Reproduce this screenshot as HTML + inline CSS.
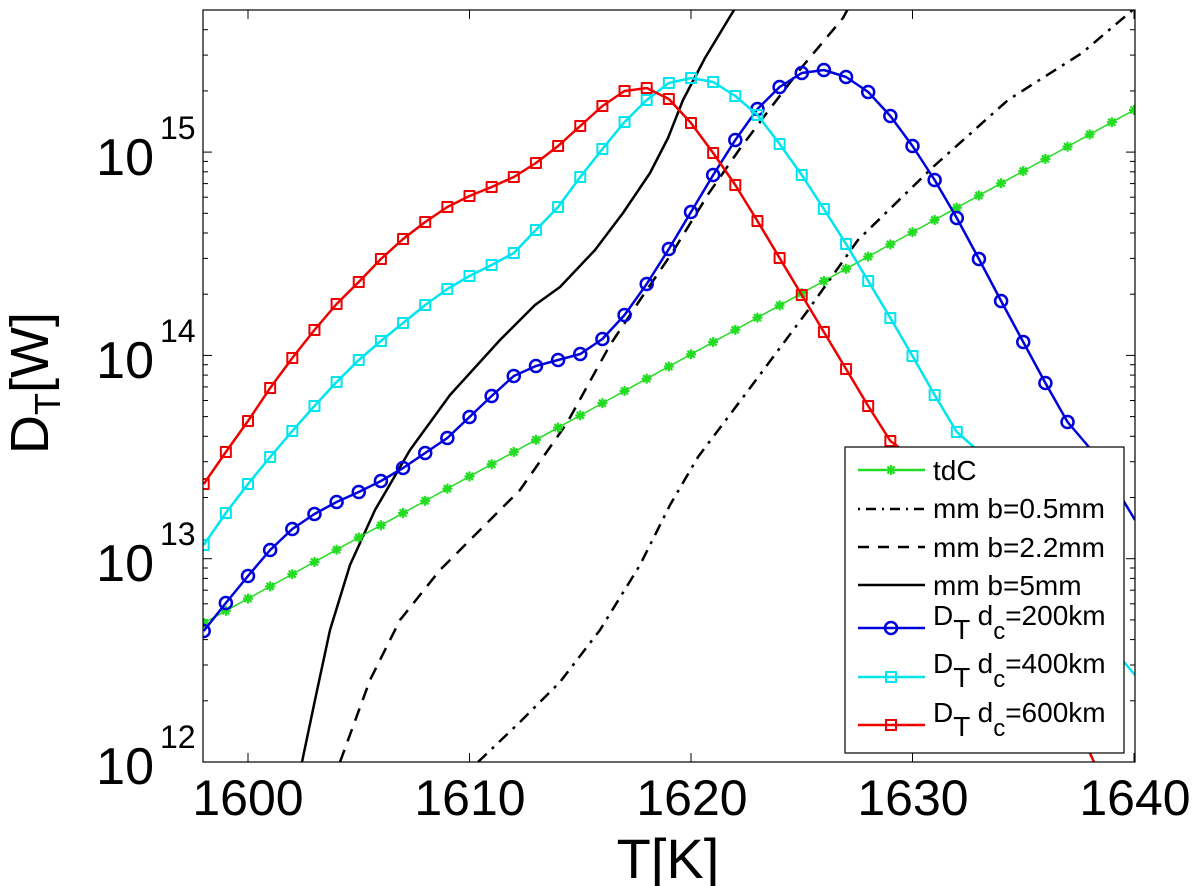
<!DOCTYPE html>
<html><head><meta charset="utf-8"><style>
html,body{margin:0;padding:0;background:#fff;}
svg{display:block;font-family:"Liberation Sans",Arial,sans-serif;}
</style></head><body>
<svg id="s" width="1200" height="886" viewBox="0 0 1200 886" xmlns="http://www.w3.org/2000/svg">
<rect width="1200" height="886" fill="#fff"/>
<defs><clipPath id="c"><rect x="203" y="10" width="932" height="752"/></clipPath></defs>
<g id="ticks" stroke="#000" stroke-width="1"></g>
<g clip-path="url(#c)" fill="none" stroke-width="2.5" stroke-linejoin="round">
<polyline stroke="#000" stroke-dasharray="12,7,3,7" points="478,762 520,722 560,682 600,630 640,565 670,505 698,457 750,388 806,313 858,240 933,167 1008,100 1082,53 1135,8"/>
<polyline stroke="#000" stroke-dasharray="13,9" points="340,762 370,680 400,620 440,570 480,530 520,490 567,423 610,345 640,300 672,253 709,193 739,150 769,110 802,67 843,18 850,5"/>
<polyline stroke="#000" points="302,762 315,700 330,630 350,565 375,510 410,450 450,395 500,340 535,305 560,287 595,250 623,213 650,173 668,138 683,100 705,58 737,5"/>
<g id="series"></g>
</g>
<rect x="203" y="10" width="932" height="752" fill="none" stroke="#000" stroke-width="1.2"/>
<g font-size="50" text-anchor="middle" fill="#000">
<text x="248" y="815">1600</text><text x="470" y="815">1610</text><text x="692" y="815">1620</text><text x="913" y="815">1630</text><text x="1135" y="815">1640</text>
</g>
<g font-size="52" fill="#000" text-anchor="end">
<text x="154" y="175">10</text><text x="154" y="378">10</text><text x="154" y="581">10</text><text x="154" y="784">10</text>
</g>
<g font-size="32" fill="#000">
<text x="160" y="139">15</text><text x="160" y="342">14</text><text x="160" y="545">13</text><text x="160" y="748">12</text>
</g>
<text x="668" y="878" font-size="56" text-anchor="middle">T[K]</text>
<text transform="translate(48,383) rotate(-90)" font-size="54" text-anchor="middle">D<tspan font-size="36" dy="12">T</tspan><tspan dy="-12">[W]</tspan></text>
<g>
<rect x="845" y="447" width="279" height="306" fill="#fff" stroke="#000" stroke-width="1.2"/>
<g font-size="28" fill="#000">
<text x="933" y="480">tdC</text>
<text x="933" y="518">mm b=0.5mm</text>
<text x="933" y="557">mm b=2.2mm</text>
<text x="933" y="595">mm b=5mm</text>
<text x="933" y="625">D<tspan dy="14">T</tspan><tspan dy="-14"> d</tspan><tspan dy="14" font-size="24">c</tspan><tspan dy="-14">=200km</tspan></text>
<text x="933" y="673">D<tspan dy="14">T</tspan><tspan dy="-14"> d</tspan><tspan dy="14" font-size="24">c</tspan><tspan dy="-14">=400km</tspan></text>
<text x="933" y="722">D<tspan dy="14">T</tspan><tspan dy="-14"> d</tspan><tspan dy="14" font-size="24">c</tspan><tspan dy="-14">=600km</tspan></text>
</g>
<g stroke-width="2.5">
<line x1="858" y1="509" x2="925" y2="509" stroke="#000" stroke-dasharray="2,6,10,6"/>
<line x1="858" y1="547" x2="925" y2="547" stroke="#000" stroke-dasharray="11,9"/>
<line x1="858" y1="585" x2="925" y2="585" stroke="#000"/>
</g>
<g id="legm"></g>
</g>
</svg>
<script>
var NS="http://www.w3.org/2000/svg";
function el(p,t,a){var e=document.createElementNS(NS,t);for(var k in a)e.setAttribute(k,a[k]);p.appendChild(e);return e;}
function X(T){return 203.7+(T-1598)*22.15;}
var tk=document.getElementById('ticks');
[1600,1610,1620,1630,1640].forEach(function(T){var x=X(T);el(tk,'line',{x1:x,y1:762,x2:x,y2:753});el(tk,'line',{x1:x,y1:10,x2:x,y2:19});});
for(var d=12;d<=15;d++){for(var m=1;m<10;m++){var y=762-(d-12+Math.log10(m))*203.3;if(y<10)break;var L=m==1?9:5;
el(tk,'line',{x1:203,y1:y,x2:203+L,y2:y});el(tk,'line',{x1:1135,y1:y,x2:1135-L,y2:y});}}
var S=document.getElementById('series');
function marker(g,type,x,y,c){
 if(type=='o')el(g,'circle',{cx:x,cy:y,r:6,fill:'none',stroke:c,'stroke-width':2.5});
 else if(type=='s')el(g,'rect',{x:x-5,y:y-5,width:10,height:10,fill:'none',stroke:c,'stroke-width':2});
 else {for(var a=0;a<4;a++){var an=a*Math.PI/4;el(g,'line',{x1:x-5*Math.cos(an),y1:y-5*Math.sin(an),x2:x+5*Math.cos(an),y2:y+5*Math.sin(an),stroke:c,'stroke-width':2.2});}}
}
function series(ys,type,c,tail,w){
 var pts=ys.map(function(y,i){return [X(1598+i),y];});
 var all=pts.concat(tail||[]);
 el(S,'polyline',{points:all.map(function(p){return p.join(',')}).join(' '),stroke:c,'stroke-width':w||2.5,fill:'none'});
 pts.forEach(function(p){marker(S,type,p[0],p[1],c);});
}
var g=[];for(var i=0;i<=42;i++)g.push(623-(623-110)*i/42);
series(g,'*','#22dd22',null,1.5);
series([631,603,576,550,529,514,502,492,481,468,453,438,417,396,376,366,360,354,339,315,284,249,212,175,140,109,87,73,70,77,92,116,146,180,218,259,301,342,383,422],'o','#0000dd',[[1100,460],[1120,495],[1135,520]]);
series([545,513,484,457,431,406,382,360,341,323,305,289,276,265,253,230,207,177,149,122,100,83,78,82,96,115,144,175,209,244,281,318,356,395,432],'s','#00e5ee',[[1000,470],[1040,540],[1080,610],[1135,675]]);
series([484,452,421,388,358,330,304,282,259,239,222,207,196,187,177,163,146,126,106,91,88,99,123,153,185,221,258,295,332,369,406,441],'s','#ee0000',[[940,478],[980,550],[1030,640],[1070,710],[1100,775]]);
var lm=document.getElementById('legm');
[['*','#22dd22',470],['o','#0000dd',628],['s','#00e5ee',677],['s','#ee0000',725]].forEach(function(a){
 el(lm,'line',{x1:858,y1:a[2],x2:925,y2:a[2],stroke:a[1],'stroke-width':2.5});marker(lm,a[0],891,a[2],a[1]);});
</script>
</body></html>
